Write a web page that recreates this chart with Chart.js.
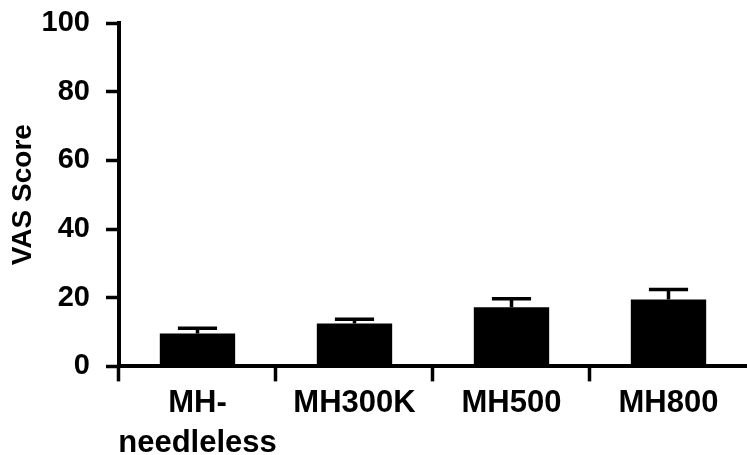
<!DOCTYPE html>
<html>
<head>
<meta charset="utf-8">
<script src="https://cdn.jsdelivr.net/npm/chart.js@4"></script>
<style>
  html, body { margin: 0; padding: 0; background: #fff; }
  #wrap { width: 747px; height: 455px; }
</style>
</head>
<body>
<div id="wrap"><canvas id="vasChart"></canvas></div>
<script>
const categories = [['MH-', 'needleless'], 'MH300K', 'MH500', 'MH800'];
const vasMeans = [9.6, 12.5, 17.2, 19.5];
const vasErrors = [1.5, 1.2, 2.5, 2.9];
const yTicks = [0, 20, 40, 60, 80, 100];

Chart.defaults.font.family = "'Liberation Sans', Arial, sans-serif";
Chart.defaults.font.weight = 'bold';
Chart.defaults.color = '#000';

// upper error bars (mean + SEM), drawn through the y scale
const errorBars = {
    id: 'errorBars',
    afterDatasetsDraw(chart) {
        const ctx = chart.ctx;
        const yScale = chart.scales.y;
        chart.getDatasetMeta(0).data.forEach((bar, i) => {
            const top = yScale.getPixelForValue(vasMeans[i] + vasErrors[i]);
            const half = bar.width * 0.26;
            ctx.save();
            ctx.strokeStyle = '#000';
            ctx.lineWidth = 3.5;
            ctx.beginPath();
            ctx.moveTo(bar.x, bar.y);
            ctx.lineTo(bar.x, top);
            ctx.moveTo(bar.x - half, top);
            ctx.lineTo(bar.x + half, top);
            ctx.stroke();
            ctx.restore();
        });
    }
};

const vasChart = new Chart(document.getElementById('vasChart'), {
    type: 'bar',
    data: {
        labels: categories,
        datasets: [{
            data: vasMeans,
            backgroundColor: '#000',
            borderWidth: 0,
            categoryPercentage: 1,
            barPercentage: 0.48
        }]
    },
    options: {
        responsive: true,
        maintainAspectRatio: false,
        animation: false,
        layout: {
            padding: { top: 23, left: 0, right: 0, bottom: -11 }
        },
        scales: {
            x: {
                grid: {
                    drawOnChartArea: false,
                    tickLength: 15,
                    tickWidth: 3.5,
                    tickColor: c => c.type === 'tick' ? '#000' : 'rgba(0,0,0,0)'
                },
                border: { color: '#000', width: 4 },
                ticks: {
                    padding: 2,
                    autoSkip: false,
                    minRotation: 0,
                    maxRotation: 0,
                    font: { size: 31, weight: 'bold', lineHeight: 1.3 }
                }
            },
            y: {
                min: 0,
                max: 100,
                afterBuildTicks: axis => { axis.ticks = yTicks.map(v => ({ value: v })); },
                grid: {
                    drawOnChartArea: false,
                    tickLength: 13,
                    tickWidth: 3.5,
                    tickColor: '#000'
                },
                border: { color: '#000', width: 4 },
                ticks: {
                    padding: 16,
                    font: { size: 29, weight: 'bold', lineHeight: 0.4 }
                },
                title: {
                    display: true,
                    text: 'VAS Score',
                    font: { size: 28, weight: 'bold' },
                    padding: { top: 6, bottom: -14 }
                }
            }
        },
        plugins: {
            legend: { display: false },
            tooltip: { enabled: false }
        }
    },
    plugins: [errorBars]
});
</script>
</body>
</html>
